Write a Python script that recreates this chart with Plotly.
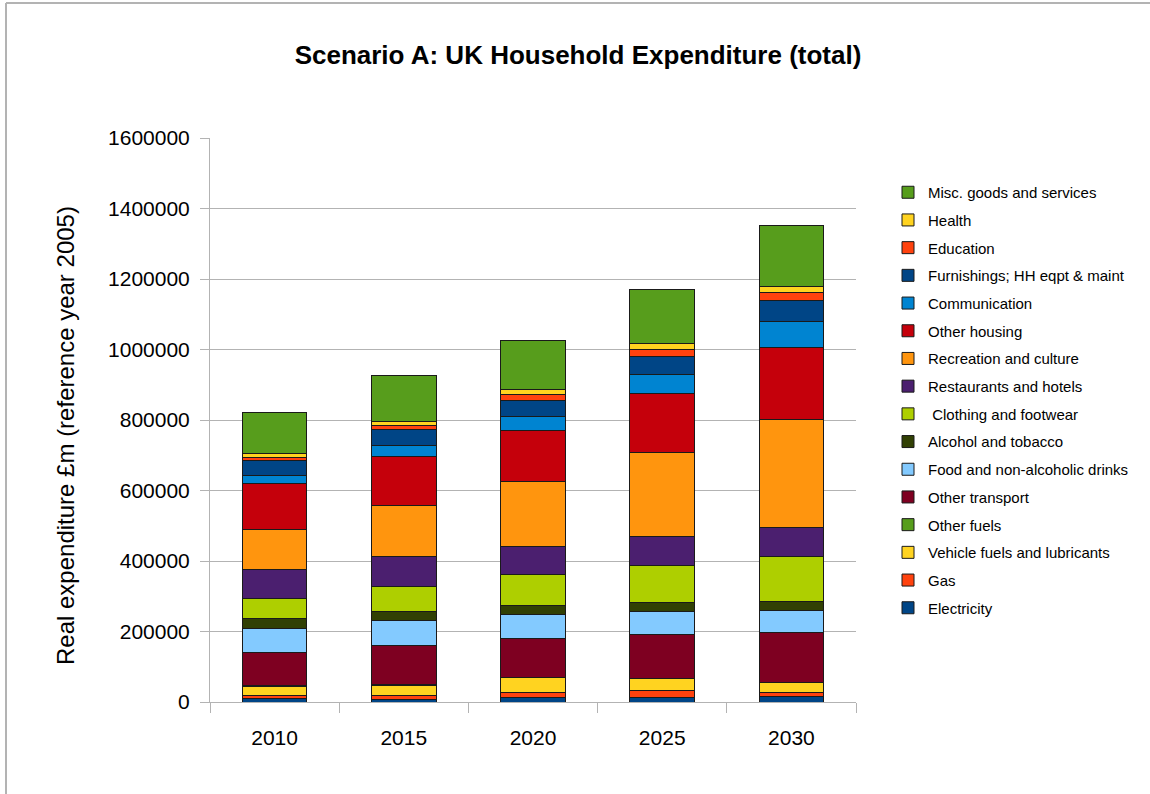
import plotly.graph_objects as go

# Scenario years on the category axis
years = ["2010", "2015", "2020", "2025", "2030"]

# Real expenditure, £m (reference year 2005), one list per category (stack order bottom -> top)
electricity = [10000, 8500, 13300, 13300, 14200]
gas = [9000, 10500, 15000, 18000, 11400]
vehicle_fuels = [26000, 28000, 40700, 35000, 28400]
other_fuels = [1500, 1500, 1500, 1500, 1500]
other_transport = [94000, 110500, 108500, 124400, 140500]
food = [68000, 71000, 69000, 65400, 64400]
alcohol = [29000, 27500, 26600, 25600, 23700]
clothing = [56500, 71000, 86200, 104100, 127900]
restaurants = [80500, 85000, 81400, 81500, 83300]
recreation = [114000, 145000, 182800, 237700, 304900]
other_housing = [132000, 137500, 145900, 169500, 206500]
communication = [21000, 31000, 38800, 53000, 71900]
furnishings = [43000, 46500, 46400, 51100, 60600]
education = [10000, 11300, 17000, 20000, 22800]
health = [11500, 12300, 13300, 16100, 17000]
misc = [115500, 129700, 139200, 153900, 171400]

series = [
    ("Electricity", electricity, "#004586"),
    ("Gas", gas, "#ff420e"),
    ("Vehicle fuels and lubricants", vehicle_fuels, "#ffd320"),
    ("Other fuels", other_fuels, "#579d1c"),
    ("Other transport", other_transport, "#7e0021"),
    ("Food and non-alcoholic drinks", food, "#83caff"),
    ("Alcohol and tobacco", alcohol, "#314004"),
    (" Clothing and footwear", clothing, "#aecf00"),
    ("Restaurants and hotels", restaurants, "#4b1f6f"),
    ("Recreation and culture", recreation, "#ff950e"),
    ("Other housing", other_housing, "#c5000b"),
    ("Communication", communication, "#0084d1"),
    ("Furnishings; HH eqpt & maint", furnishings, "#004586"),
    ("Education", education, "#ff420e"),
    ("Health", health, "#ffd320"),
    ("Misc. goods and services", misc, "#579d1c"),
]

y_ticks = [0, 200000, 400000, 600000, 800000, 1000000, 1200000, 1400000, 1600000]

fig = go.Figure()
n = len(series)
for i, (name, vals, color) in enumerate(series):
    fig.add_trace(go.Bar(
        x=years, y=vals, name=name,
        marker=dict(color=color, line=dict(color="#1a1a1a", width=1)),
        legendgroup=f"g{i}",
        legendrank=n - i,
        width=0.5,
    ))

FONT = "Liberation Sans, Arial, sans-serif"
GRID = "#b3b3b3"

# Plot-area geometry in pixels
L, R, T, B = 210, 294, 138, 92
W, H = 1150, 794
pw, ph = W - L - R, H - T - B
def px(xp):
    return (xp - L) / pw
def py(yp):
    return (H - B - yp) / ph

# Outer frame lines (left and top)
fig.add_shape(type="line", xref="paper", yref="paper",
              x0=px(6), x1=px(6), y0=py(3), y1=py(800),
              line=dict(color="#b3b3b3", width=2))
fig.add_shape(type="line", xref="paper", yref="paper",
              x0=px(6), x1=px(1160), y0=py(3), y1=py(3),
              line=dict(color="#b3b3b3", width=2))

# Y-axis title, rotated
fig.add_annotation(
    text="Real expenditure £m (reference year 2005)",
    xref="paper", yref="paper", x=px(65), y=py(436), xanchor="center", yanchor="middle",
    textangle=-90, showarrow=False, font=dict(size=24, family=FONT, color="#000000"),
)

fig.update_layout(
    width=W, height=H,
    margin=dict(l=L, r=R, t=T, b=B, pad=0),
    paper_bgcolor="white", plot_bgcolor="white",
    barmode="stack",
    bargap=0.5,
    font=dict(family=FONT, color="#000000"),
    title=dict(text="<b>Scenario A: UK Household Expenditure (total)</b>",
               x=px(578), xanchor="center", xref="paper",
               y=1 - 55 / H, yanchor="middle",
               font=dict(size=26, family=FONT)),
    legend=dict(
        x=px(888), xanchor="left", y=py(176), yanchor="top",
        traceorder="grouped", tracegroupgap=5.2,
        font=dict(size=15, family=FONT),
        bgcolor="rgba(0,0,0,0)",
        itemclick=False,
    ),
    xaxis=dict(
        showgrid=False, showline=True, linecolor=GRID, linewidth=1,
        ticks="outside", tickson="boundaries", ticklen=10, tickcolor=GRID,
        tickfont=dict(size=21, family=FONT),
        ticklabelstandoff=17,
    ),
    yaxis=dict(
        range=[0, 1600000], tickvals=y_ticks, ticktext=[str(v) for v in y_ticks],
        showgrid=True, gridcolor=GRID, gridwidth=1,
        showline=True, linecolor=GRID, linewidth=1,
        ticks="outside", ticklen=9, tickcolor=GRID,
        tickfont=dict(size=21, family=FONT),
        ticklabelstandoff=6,
        zeroline=False,
    ),
)

fig.write_html("out.html")
